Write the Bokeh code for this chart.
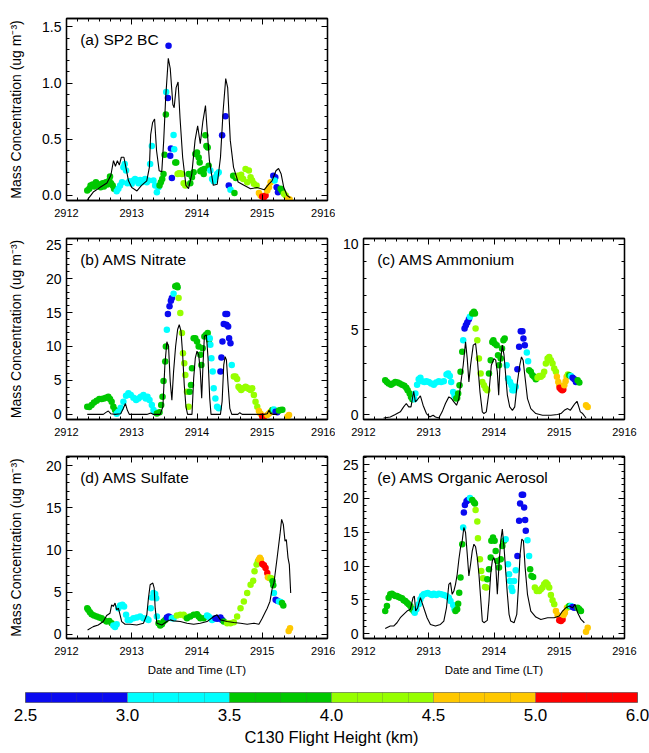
import numpy as np
from bokeh.plotting import figure
from bokeh.models import (Range1d, LinearAxis, FixedTicker, PrintfTickFormatter,
                          Label, ColumnDataSource)
from bokeh.layouts import column, row
from bokeh.embed import file_html
from bokeh.resources import INLINE

FONT = "Liberation Sans"
DAY0 = 2912

# ---------------- colour scale (C130 flight height, km) ----------------
height_levels = [2.5, 3.0, 3.5, 4.0, 4.5, 5.0, 6.0]
height_colors = ["#0a0af0", "#00ffff", "#00c800", "#96ff00", "#ffc800", "#ff0000"]
height_labels = ["2.5", "3.0", "3.5", "4.0", "4.5", "5.0", "6.0"]

# heights used for the dot classes (mid-band values)
B, C, G, Y, O, R = 2.75, 3.25, 3.75, 4.25, 4.75, 5.5

x_ticks = [2912, 2913, 2914, 2915, 2916]


def runs(spec):
    out = []
    for h, n in spec:
        out += [h] * n
    return out

# ---------------- (a) SP2 BC ----------------
a_line_t = [.32, .41, .51, .62, .68, .72, .75, .78, .81, .84, .88, .91, .95, 1.00, 1.08,
            1.15, 1.23, 1.27, 1.29, 1.32, 1.35, 1.38, 1.42, 1.46, 1.49, 1.52, 1.56, 1.59, 1.63, 1.65,
            1.68, 1.71, 1.74, 1.78, 1.83, 1.87, 1.92, 1.97, 2.01, 2.05, 2.09, 2.13, 2.15, 2.19, 2.25,
            2.31, 2.36, 2.40, 2.44, 2.47, 2.51, 2.56, 2.63, 2.72, 2.82, 2.92, 3.03, 3.10, 3.15, 3.21,
            3.25, 3.29, 3.33, 3.38, 3.43]
a_line_y = [-.04, .03, .07, .11, .18, .31, .26, .31, .27, .34, .34, .25, .13, .07, .04,
            .09, .13, .25, .54, .65, .68, .40, .22, .21, .49, .87, 1.22, 1.13, .81, .78,
            .96, 1.01, .69, .34, .09, .06, .19, .49, .62, .46, .66, .80, .63, .31, .09,
            .10, .34, .75, 1.04, .96, .49, .25, .12, .09, .06, .07, .05, .10, .13, .22,
            .24, .19, .07, .00, -.02]
a_dot_t = [.318, .349, .369, .400, .426, .451, .472, .497, .523, .554, .574, .605, .626, .656, .682, .708, .728, .667,
           .769, .795, .821, .851, .872, .892, .913, .933, .964, 1.000, 1.026, 1.051, 1.077, 1.103, 1.128, 1.154,
           1.179, 1.205, 1.231, 1.256, 1.282, 1.308, 1.333, 1.359, 1.385, 1.410,
           1.426, 1.446, 1.467, 1.487, 1.503, 1.523,
           1.528,
           1.554, 1.564, 1.590, 1.600, 1.615,
           1.641, 1.651,
           1.667, 1.682,
           1.703, 1.723, 1.744, 1.769, 1.795, 1.821,
           1.872, 1.897, 1.923, 1.949, 1.974, 2.000, 2.026, 2.041, 2.051, 2.077, 2.103, 2.113, 2.128, 2.144, 2.164, 2.179,
           2.205, 2.231, 2.256, 2.282, 2.308, 2.333,
           2.385, 2.436, 2.487,
           2.513,
           2.554, 2.574, 2.595,
           2.626, 2.656, 2.677, 2.708, 2.744, 2.769, 2.795, 2.821, 2.846, 2.872, 2.913,
           2.949, 2.974,
           3.000, 3.026, 3.051,
           3.077, 3.103, 3.128,
           3.169, 3.200,
           3.190,
           3.221, 3.241,
           3.282, 3.308,
           3.333, 3.359,
           3.395, 3.421]
a_dot_y = [.044, .059, .088, .097, .079, .118, .103, .088, .074, .109, .079, .118, .097, .132, .109, .088, .059, .168,
           .038, .059, .088, .118, .25, .279, .221, .109, .126, .103, .132, .147, .132, .109, .138, .118,
           .132, .147, .118, .132, .279, .441, .132, .088, .029, .074,
           .088, .118, .147, .191, .362, .721,
           .921,
           .868, 1.332, .353, .418, .156,
           .538, .412,
           .294, .294,
           .191, .197, .197, .191, .109, .088,
           .191, .109, .162, .206, .368, .382, .338, .294, .215, .226, .191, .235, .535, .441, .426, .265,
           .221, .147, .126, .162, .191, .206,
           .535, .706, .088,
           .050,
           .176, .021, .156,
           .176, .162, .185, .147, .235, .118, .221, .162, .132, .103, .088,
           .021, .000,
           -.009, -.015, .000,
           .044, .074, .118,
           .176, .162,
           .132,
           .074, .029,
           .059, .038,
           .015, .000,
           -.029, -.035]
a_dot_h = runs([(G, 18), (C, 26), (G, 6), (C, 1), (B, 5), (C, 2), (G, 2), (Y, 6), (G, 16), (C, 6), (B, 3),
                (C, 1), (G, 3), (Y, 11), (O, 2), (R, 3), (O, 3), (B, 2), (C, 1), (B, 2), (G, 2), (Y, 2), (O, 2)])

# ---------------- (b) AMS Nitrate ----------------
b_line_t = [.318, .462, .564, .605, .641, .677, .744, .831, .872, .903, .933, .964, 1.231, 1.292, 1.333,
            1.436, 1.477, 1.508, 1.538, 1.564, 1.590, 1.615, 1.641, 1.672, 1.703, 1.728, 1.754, 1.779, 1.805, 1.831,
            1.856, 1.923, 1.949, 1.974, 2.000, 2.026, 2.051, 2.072, 2.092, 2.113, 2.144, 2.169, 2.195, 2.215, 2.359,
            2.385, 2.410, 2.431, 2.451, 2.477, 2.503, 2.533, 2.626, 2.656, 2.692, 3.026, 3.077, 3.103, 3.128, 3.169,
            3.231]
b_line_y = [0, 0, 0, .3, .5, .1, 0, .1, .9, 1.6, .6, 0, 0, .2, 0,
            0, 1.1, 7.3, 10.7, 10.0, 4.8, 2.1, 6.3, 10.0, 12.5, 13.2, 12.3, 9.0, 4.3, 1.1,
            0, 0, 5.3, 8.3, 9.3, 8.8, 6.3, 2.4, 7.3, 11.5, 11.7, 8.3, 2.4, 0, 0,
            1.9, 7.3, 8.5, 8.0, 4.3, .9, 0, 0, .25, 0, 0, .1, .6, .15, 0,
            0]
b_dot_t = [.318, .349, .385, .421, .462, .503, .538, .574, .605, .641, .667, .692, .718, .744,
           .769, .795, .831, .872, .913, .949, .985, 1.026, 1.067, 1.103, 1.138, 1.179, 1.215, 1.241, 1.272, 1.308, 1.333, 1.359,
           1.385, 1.426, 1.451, 1.472, 1.487, 1.513, 1.523,
           1.538,
           1.554, 1.579, 1.600, 1.615,
           1.641,
           1.667, 1.692, 1.703,
           1.718, 1.744, 1.769, 1.785, 1.805, 1.821, 1.846, 1.872,
           1.887, 1.908, 1.923, 1.949, 1.974, 2.000, 2.026, 2.051, 2.067, 2.087, 2.113, 2.138, 2.164, 2.185,
           2.195, 2.205, 2.221, 2.241, 2.256, 2.282, 2.308, 2.333,
           2.359, 2.374, 2.390, 2.410, 2.436, 2.462, 2.451, 2.477, 2.492, 2.513,
           2.533,
           2.564, 2.590, 2.615, 2.636, 2.656, 2.677, 2.708, 2.744, 2.769, 2.795, 2.821, 2.846, 2.872, 2.897, 2.923,
           2.949, 2.974,
           3.000, 3.026,
           3.077, 3.103, 3.128,
           3.154,
           3.179,
           3.205, 3.231,
           3.256, 3.282, 3.308,
           3.385, 3.410]
b_dot_y = [1.13, 1.08, 1.38, 1.77, 2.02, 2.27, 2.27, 2.36, 2.46, 2.61, 2.27, 1.87, 1.13, .64,
           .10, .39, .99, 1.87, 2.76, 3.10, 2.86, 2.46, 2.12, 2.36, 2.61, 2.86, 2.36, 2.61, 2.12, 1.38, .64, .30,
           .15, .30, 1.38, 2.61, 4.93, 7.78, 10.0,
           12.46,
           14.78, 15.91, 16.75, 17.14,
           17.78,
           18.87, 18.97, 18.72,
           17.14, 14.93, 11.97, 9.01, 7.54, 5.81, 3.35, 1.13,
           3.35, 4.33, 6.80, 11.23, 11.23, 10.74, 10.0, 8.77, 7.29, 9.75, 11.48, 11.72, 11.97, 10.99,
           11.23, 10.25, 8.28, 6.31, 3.84, 2.36, 1.13, .89,
           6.31, 8.37, 10.74, 13.30, 14.78, 14.78, 13.20, 12.96, 11.23, 10.49,
           7.29,
           5.57, 5.57, 5.22, 4.09, 3.84, 3.60, 3.84, 4.09, 3.94, 3.74, 3.60, 3.84, 2.86, 1.87, 1.13,
           .49, .10,
           -.30, -.39,
           -.10, .15, .39,
           .64,
           .74,
           .39, .30,
           .59, .64, .69,
           -.34, -.10]
b_dot_h = runs([(G, 14), (C, 18), (G, 7), (C, 1), (B, 4), (C, 1), (G, 3), (Y, 8), (G, 14), (C, 8), (B, 10),
                (C, 1), (Y, 15), (O, 2), (R, 2), (O, 3), (G, 1), (C, 1), (B, 2), (G, 3), (O, 2)])

# ---------------- (c) AMS Ammonium ----------------
c_line_t = [.308, .410, .487, .564, .615, .656, .692, .728, .769, .795, .831, .872, .913, .964, 1.015,
            1.067, 1.103, 1.154, 1.205, 1.256, 1.308, 1.349, 1.385, 1.426, 1.462, 1.487, 1.528, 1.564, 1.590, 1.615,
            1.641, 1.682, 1.718, 1.744, 1.785, 1.821, 1.846, 1.882, 1.923, 1.959, 2.000, 2.026, 2.051, 2.072, 2.092,
            2.128, 2.154, 2.179, 2.205, 2.241, 2.282, 2.318, 2.359, 2.395, 2.421, 2.446, 2.472, 2.513, 2.564, 2.641,
            2.744, 2.872, 2.974, 3.026, 3.077, 3.128, 3.169, 3.205, 3.241, 3.272, 3.292, 3.323, 3.359, 3.410]
c_line_y = [-.20, -.14, 0, .16, .45, .65, .45, .45, 1.37, .75, .90, 1.10, .55, .06, -.14,
            -.04, -.14, -.20, .16, .65, 1.04, .94, .75, .55, .94, 1.73, 2.90, 4.27, 3.29, 1.92,
            2.90, 4.08, 4.18, 3.29, 1.33, .16, .06, .16, 1.33, 2.90, 3.29, 3.20, 2.51, 1.14, 2.90,
            4.08, 3.49, 2.31, 1.14, .45, .25, .45, 1.92, 2.90, 3.39, 3.20, 2.31, .94, .35, .06,
            -.04, -.04, 0, .06, .25, .35, .25, .45, .65, .78, .55, .16, .06, -.20]
c_dot_t = [.333, .359, .385, .421, .451, .487, .523, .554, .590, .626, .656, .677, .708, .728, .749,
           .779, .795, .821, .846, .872, .897, .933, .964, 1.000, 1.036, 1.077, 1.113, 1.154, 1.190, 1.231, 1.272,
           1.297, 1.323, 1.344, 1.374, 1.395,
           1.421, 1.436, 1.451, 1.472, 1.487, 1.513,
           1.528,
           1.549, 1.569, 1.590, 1.615,
           1.631,
           1.667, 1.692, 1.708,
           1.718, 1.744, 1.769, 1.795, 1.821, 1.846, 1.872, 1.897,
           1.923, 1.949, 1.974, 1.990, 2.010, 2.041, 2.062, 2.077, 2.103, 2.123, 2.144, 2.164,
           2.195, 2.215, 2.246, 2.267, 2.282, 2.308, 2.333,
           2.359, 2.385, 2.410, 2.436, 2.451, 2.472,
           2.503, 2.523,
           2.538, 2.564, 2.590, 2.615, 2.641,
           2.667, 2.692, 2.718, 2.744, 2.769, 2.795, 2.821, 2.846, 2.872, 2.897, 2.923, 2.949,
           2.964, 2.985, 3.000,
           3.005, 3.026, 3.046, 3.062,
           3.077, 3.097, 3.113,
           3.133,
           3.154,
           3.179,
           3.205, 3.231, 3.256,
           3.282, 3.308,
           3.410, 3.436]
c_dot_y = [2.02, 1.92, 1.82, 1.76, 1.82, 1.92, 1.88, 1.82, 1.76, 1.69, 1.57, 1.43, 1.24, 1.04, .90,
           .90, 1.24, 1.76, 2.08, 2.16, 1.96, 1.92, 1.96, 1.92, 1.82, 1.76, 1.88, 1.96, 1.92, 1.96, 2.35,
           2.41, 2.27, 1.92, 1.33, 1.10,
           .94, .98, 1.24, 1.73, 2.51, 3.69,
           4.37,
           5.06, 5.25, 5.41, 5.61,
           5.75,
           5.94, 6.04, 5.94,
           5.06, 4.37, 3.29, 2.41, 1.92, 1.73, 1.53, 1.43,
           2.41, 3.20, 4.27, 4.37, 4.18, 4.08, 3.49, 2.90, 3.29, 3.88, 4.37, 4.47,
           2.90, 2.12, 1.92, 1.73, 1.43, 1.43, 1.63,
           2.67, 3.98, 4.90, 4.90, 4.47, 4.08,
           3.65, 3.14,
           2.61, 2.51, 2.31, 2.22, 2.08,
           2.16, 2.27, 2.22, 2.31, 2.51, 3.00, 3.29, 3.39, 3.20, 3.00, 2.71, 2.51,
           2.22, 1.92, 1.73,
           1.57, 1.49, 1.43, 1.47,
           1.73, 1.96, 2.22,
           2.35,
           2.31,
           2.27,
           2.16, 2.08, 1.92,
           2.02, 1.88,
           .55, .45]
c_dot_h = runs([(G, 15), (C, 21), (G, 6), (C, 1), (B, 4), (C, 1), (G, 3), (Y, 8), (G, 12), (C, 7), (B, 6),
                (C, 2), (G, 5), (Y, 12), (O, 3), (R, 4), (O, 3), (Y, 1), (G, 1), (C, 1), (B, 3), (G, 2), (O, 2)])

# ---------------- (d) AMS Sulfate ----------------
d_line_t = [.323, .410, .487, .564, .615, .667, .692, .718, .744, .769, .795, .821, .846, .897, .974,
            1.077, 1.179, 1.231, 1.256, 1.282, 1.323, 1.344, 1.359, 1.385, 1.462, 1.538, 1.590, 1.641, 1.744, 1.846,
            1.949, 2.051, 2.154, 2.256, 2.308, 2.359, 2.462, 2.564, 2.667, 2.769, 2.872, 2.949, 3.000, 3.051, 3.077,
            3.118, 3.154, 3.179, 3.231, 3.272, 3.297, 3.323, 3.349, 3.369, 3.395, 3.415, 3.436]
d_line_y = [.52, .91, 1.11, 1.51, 2.23, 2.50, 3.50, 3.30, 3.70, 2.90, 3.10, 2.31, 1.51, 1.19, 1.19,
            1.11, 1.31, 2.31, 4.29, 5.88, 6.08, 5.49, 3.10, 1.31, 1.11, 1.51, 1.71, 1.59, 1.51, 1.31,
            1.19, 1.31, 1.51, 2.11, 2.31, 1.71, 1.51, 1.39, 1.31, 1.19, 1.31, 1.19, 1.91, 2.70, 3.10,
            3.90, 5.49, 6.08, 9.26, 11.85, 13.64, 13.04, 11.05, 11.25, 9.07, 8.27, 4.89]
d_dot_t = [.318, .333, .359, .385, .421, .462, .503, .538, .574, .615, .656, .692,
           .718, .744, .769, .795, .821, .856, .882, .913, .938, .974, 1.026, 1.077, 1.128, 1.179, 1.231, 1.256,
           1.292, 1.308, 1.333, 1.359, 1.374, 1.385,
           1.410, 1.436, 1.462, 1.487, 1.513,
           1.538, 1.564, 1.590,
           1.615, 1.641,
           1.692, 1.744, 1.795, 1.821,
           1.846, 1.897, 1.949, 2.000, 2.026, 2.051, 2.103,
           2.154, 2.179, 2.205, 2.231,
           2.282, 2.308, 2.333, 2.359, 2.385,
           2.410,
           2.462, 2.513, 2.564, 2.615, 2.667, 2.718, 2.769, 2.821, 2.862, 2.882, 2.913, 2.933,
           2.949, 2.964, 2.979,
           3.000, 3.026, 3.051, 3.077,
           3.087, 3.108,
           3.128, 3.149,
           3.159, 3.169,
           3.179,
           3.205, 3.231,
           3.256, 3.282,
           3.303, 3.323,
           3.405, 3.426]
d_dot_y = [3.10, 2.90, 2.62, 2.39, 2.23, 2.11, 1.99, 1.91, 1.71, 1.51, 1.59, 1.31,
           1.03, .87, 1.19, 3.10, 3.42, 3.50, 3.30, 2.31, 1.71, 1.71, 1.91, 1.99, 2.11, 1.91, 1.83, 1.71,
           3.10, 4.37, 4.89, 4.77, 4.29, 2.11,
           1.31, 1.03, 1.19, 1.51, 1.71,
           1.99, 2.11, 1.99,
           1.91, 1.91,
           2.23, 2.31, 2.31, 2.11,
           1.91, 2.11, 2.31, 2.39, 2.11, 1.91, 1.91,
           2.23, 2.11, 1.91, 1.71,
           1.91, 1.83, 1.91, 1.99, 1.71,
           1.51,
           1.31, 1.31, 1.43, 2.11, 3.10, 3.90, 4.89, 5.88, 6.36, 7.48, 8.27, 8.67,
           8.87, 9.07, 8.87,
           8.35, 8.19, 7.87, 7.28,
           6.76, 6.68,
           6.68, 6.60,
           6.28, 5.81,
           4.89,
           4.10, 3.98,
           3.90, 3.82,
           3.70, 3.42,
           .40, .72]
d_dot_h = runs([(G, 12), (C, 22), (G, 5), (B, 3), (C, 2), (Y, 4), (G, 7), (C, 4), (B, 5), (G, 1), (Y, 12),
                (O, 3), (R, 4), (O, 2), (Y, 2), (G, 2), (C, 1), (B, 2), (C, 2), (G, 2), (O, 2)])

# ---------------- (e) AMS Organic Aerosol ----------------
e_line_t = [.333, .410, .462, .513, .564, .615, .667, .718, .759, .779, .800, .831, .872, .923, .974,
            1.026, 1.103, 1.179, 1.231, 1.272, 1.308, 1.333, 1.359, 1.385, 1.410, 1.436, 1.462, 1.487, 1.513, 1.538,
            1.564, 1.590, 1.615, 1.641, 1.667, 1.692, 1.718, 1.744, 1.769, 1.795, 1.821, 1.846, 1.897, 1.923, 1.949,
            1.974, 2.000, 2.026, 2.051, 2.077, 2.103, 2.128, 2.154, 2.179, 2.205, 2.231, 2.256, 2.308, 2.349, 2.374,
            2.400, 2.426, 2.451, 2.477, 2.513, 2.564, 2.641, 2.718, 2.821, 2.923, 3.000, 3.051, 3.103, 3.154, 3.205,
            3.241, 3.282, 3.333, 3.385]
e_line_y = [.79, 1.14, 1.14, 1.63, 2.37, 2.87, 3.36, 3.61, 5.34, 5.58, 3.36, 3.85, 5.34, 3.85, 2.37,
            1.38, 1.14, 1.38, 1.88, 3.85, 7.31, 7.56, 5.83, 6.32, 7.31, 8.79, 11.02, 12.75, 13.74, 15.71,
            14.97, 11.76, 8.55, 10.28, 12.25, 13.24, 12.85, 11.26, 8.79, 5.34, 1.88, 1.63, 1.98, 4.84, 8.79,
            10.77, 11.26, 10.28, 5.83, 10.28, 13.74, 15.46, 12.75, 9.29, 5.83, 2.87, 1.88, 1.63, 2.87, 6.82,
            11.76, 13.98, 13.74, 9.78, 5.83, 3.36, 2.47, 2.12, 2.37, 2.37, 2.62, 3.36, 3.85, 4.10, 3.85,
            4.35, 3.11, 2.12, 1.63]
e_dot_t = [.333, .359, .385, .410, .436, .462, .487, .513, .538, .564, .590, .615, .641, .667, .692, .718, .744, .769,
           .785, .810, .846, .872, .897, .923, .949, .985, 1.026, 1.051, 1.077, 1.118, 1.154, 1.190, 1.231, 1.272,
           1.308, 1.333, 1.374, 1.395,
           1.410, 1.436, 1.451, 1.467, 1.487, 1.513,
           1.528,
           1.538, 1.554, 1.579, 1.600,
           1.631,
           1.667, 1.692, 1.708,
           1.718, 1.744, 1.754, 1.785, 1.805, 1.831, 1.862, 1.882,
           1.897, 1.923, 1.949, 1.959, 1.985, 2.010, 2.026, 2.051, 2.077, 2.103, 2.128, 2.154,
           2.179, 2.215, 2.231, 2.246, 2.267, 2.282, 2.308, 2.333,
           2.359, 2.385, 2.400, 2.426, 2.446, 2.462, 2.477, 2.487,
           2.513, 2.538,
           2.554, 2.574, 2.600,
           2.626, 2.656, 2.692, 2.718, 2.744, 2.769, 2.795, 2.821, 2.846, 2.872, 2.897, 2.923,
           2.949, 2.974,
           3.000, 3.026, 3.051,
           3.067, 3.087, 3.118,
           3.138,
           3.154,
           3.179,
           3.205, 3.231,
           3.282, 3.308, 3.333,
           3.410, 3.436]
e_dot_y = [3.36, 4.10, 5.34, 5.83, 5.93, 5.73, 5.58, 5.58, 5.43, 5.34, 5.24, 4.94, 4.84, 4.59, 4.35, 4.10, 3.61, 3.36,
           3.11, 3.61, 4.35, 5.09, 5.58, 5.83, 5.93, 6.03, 5.83, 5.73, 5.93, 5.73, 5.93, 5.83, 5.73, 5.58,
           5.34, 4.84, 4.25, 3.61,
           3.36, 3.61, 4.45, 6.08, 8.30, 13.24,
           15.71,
           17.93, 19.02, 19.57, 19.76,
           20.06,
           19.76, 19.42, 19.27,
           18.28, 16.60, 14.13, 11.02, 9.29, 8.20, 6.92, 6.82,
           8.05, 9.54, 11.26, 13.74, 14.23, 13.74, 12.25, 10.77, 9.78, 11.02, 12.99, 13.74,
           13.98, 10.28, 8.79, 7.81, 6.82, 6.32, 7.81, 9.39,
           11.51, 16.70, 19.27, 20.55, 20.55, 18.68, 16.80, 15.22,
           13.83, 11.51,
           9.54, 8.55, 8.40,
           6.82, 6.32, 6.32, 6.57, 6.82, 7.31, 7.56, 7.31, 6.82, 5.73, 4.94, 4.35,
           3.36, 2.77,
           1.98, 1.88, 2.12,
           2.77, 3.11, 3.85,
           3.95,
           4.10,
           4.10,
           3.95, 3.85,
           3.85, 3.61, 3.36,
           .30, .89]
e_dot_h = runs([(G, 18), (C, 20), (G, 6), (C, 1), (B, 4), (C, 1), (G, 3), (Y, 8), (G, 12), (C, 8), (B, 8),
                (C, 2), (G, 3), (Y, 12), (O, 2), (R, 3), (O, 3), (Y, 1), (G, 1), (C, 1), (B, 2), (G, 3), (O, 2)])


def height_color(h):
    i = int(np.searchsorted(height_levels, h, side="right")) - 1
    return height_colors[min(max(i, 0), len(height_colors) - 1)]


def style_axis(ax, label_size=None, standoff=5):
    ax.major_tick_in = 6
    ax.major_tick_out = 0
    ax.minor_tick_in = 3
    ax.minor_tick_out = 0
    ax.axis_line_color = "black"
    ax.axis_line_width = 1.3
    ax.major_tick_line_color = "black"
    ax.minor_tick_line_color = "black"
    ax.major_label_text_font = FONT
    ax.major_label_text_color = "black"
    ax.axis_label_text_font = FONT
    ax.axis_label_text_font_style = "normal"
    ax.axis_label_text_color = "black"
    if label_size is None:
        ax.major_label_text_font_size = "0px"
        ax.major_label_standoff = 0
    else:
        ax.major_label_text_font_size = label_size
        ax.major_label_standoff = standoff


def panel(title, lt, ly, dt, dy, dh, yr, ymaj, ymin, yfmt, width, height, borders,
          ylabel=False, ylab_standoff=15, xlabel=False):
    assert len(lt) == len(ly), title
    assert len(dt) == len(dy) == len(dh), (title, len(dt), len(dy), len(dh))
    bl, br, bt, bb = borders
    p = figure(width=width, height=height, x_range=Range1d(2912, 2916), y_range=Range1d(*yr),
               x_axis_type=None, y_axis_type=None, output_backend="svg", toolbar_location=None,
               min_border_left=bl, min_border_right=br, min_border_top=bt, min_border_bottom=bb)
    p.outline_line_color = "black"
    p.outline_line_width = 1.3
    p.background_fill_color = "white"
    p.border_fill_color = "white"

    xminor = list(np.arange(2912, 2916.001, 1 / 6))
    xt = FixedTicker(ticks=x_ticks, minor_ticks=xminor)
    yt = FixedTicker(ticks=ymaj, minor_ticks=ymin)

    xb = LinearAxis(ticker=xt, formatter=PrintfTickFormatter(format="%d"))
    style_axis(xb, "11px", 8)
    if xlabel:
        xb.axis_label = "Date and Time (LT)"
        xb.axis_label_text_font_size = "11.5px"
        xb.axis_label_standoff = 6
    p.add_layout(xb, "below")
    xa = LinearAxis(ticker=xt, major_label_overrides={t: "" for t in x_ticks})
    style_axis(xa)
    p.add_layout(xa, "above")

    yl = LinearAxis(ticker=yt, formatter=PrintfTickFormatter(format=yfmt))
    style_axis(yl, "14px", 5)
    if ylabel:
        yl.axis_label = "Mass Concentration (ug m\u207b\u00b3)"
        yl.axis_label_text_font_size = "14px"
        yl.axis_label_standoff = ylab_standoff
    p.add_layout(yl, "left")
    yr_ax = LinearAxis(ticker=yt, major_label_overrides={t: "" for t in ymaj})
    style_axis(yr_ax)
    p.add_layout(yr_ax, "right")

    src = ColumnDataSource(dict(t=[DAY0 + v for v in dt], y=dy,
                                c=[height_color(h) for h in dh]))
    p.scatter("t", "y", source=src, size=6.5, fill_color="c", line_color=None)
    p.line([DAY0 + v for v in lt], ly, line_color="black", line_width=1.1)

    yspan = yr[1] - yr[0]
    p.add_layout(Label(x=2912.21, y=yr[1] - 0.115 * yspan, text=title, text_font=FONT,
                       text_font_size="15.5px", text_baseline="middle", text_color="black"))
    return p


W1, W2 = 335, 314
B1 = (66, 8)
B2 = (28, 25)

pa = panel("(a) SP2 BC", a_line_t, a_line_y, a_dot_t, a_dot_y, a_dot_h,
           (-0.045, 1.575), [0, 0.5, 1.0, 1.5], list(np.round(np.arange(0, 1.55, 0.1), 2)), "%.1f",
           W1, 228, B1 + (18, 28), ylabel=True, ylab_standoff=15)
pb = panel("(b) AMS Nitrate", b_line_t, b_line_y, b_dot_t, b_dot_y, b_dot_h,
           (-0.75, 25.9), [0, 5, 10, 15, 20, 25], list(range(0, 26)), "%d",
           W1, 218, B1 + (10, 27), ylabel=True, ylab_standoff=19)
pc = panel("(c) AMS Ammonium", c_line_t, c_line_y, c_dot_t, c_dot_y, c_dot_h,
           (-0.29, 10.35), [0, 5, 10], list(range(0, 11)), "%d",
           W2, 218, B2 + (10, 27))
pd_ = panel("(d) AMS Sulfate", d_line_t, d_line_y, d_dot_t, d_dot_y, d_dot_h,
            (-0.5, 21.1), [0, 5, 10, 15, 20], list(range(0, 22)), "%d",
            W1, 234, B1 + (10, 42), ylabel=True, ylab_standoff=19, xlabel=True)
pe = panel("(e) AMS Organic Aerosol", e_line_t, e_line_y, e_dot_t, e_dot_y, e_dot_h,
           (-0.7, 26.2), [0, 5, 10, 15, 20, 25], list(range(0, 27)), "%d",
           W2, 234, B2 + (10, 42), xlabel=True)

# ---------------- colour bar ----------------
ncol = len(height_colors)
cb = figure(width=649, height=71, x_range=Range1d(0, ncol), y_range=Range1d(0, 1),
            x_axis_type=None, y_axis_type=None, output_backend="svg", toolbar_location=None,
            min_border_left=25, min_border_right=12, min_border_top=12, min_border_bottom=49)
cb.outline_line_color = "#777777"
cb.outline_line_width = 1
cb.quad(left=list(range(ncol)), right=list(range(1, ncol + 1)), bottom=0, top=1,
        fill_color=height_colors, line_color=None)
cax = LinearAxis(ticker=FixedTicker(ticks=list(range(ncol + 1)),
                                    minor_ticks=list(np.arange(0, ncol + 0.001, 0.25))),
                 major_label_overrides={i: lab for i, lab in enumerate(height_labels)})
cax.axis_line_color = None
cax.major_tick_in = 10
cax.major_tick_out = 0
cax.minor_tick_in = 10
cax.minor_tick_out = 0
cax.major_tick_line_color = "#555555"
cax.minor_tick_line_color = "#555555"
cax.major_tick_line_alpha = 0.25
cax.minor_tick_line_alpha = 0.25
cax.major_label_text_font = FONT
cax.major_label_text_font_size = "17px"
cax.major_label_standoff = 6
cax.major_label_text_color = "black"
cax.axis_label = "C130 Flight Height (km)"
cax.axis_label_text_font = FONT
cax.axis_label_text_font_size = "16.5px"
cax.axis_label_text_font_style = "normal"
cax.axis_label_standoff = 4
cax.axis_label_text_color = "black"
cb.add_layout(cax, "below")

top = column(pa, row(pb, pc), row(pd_, pe))
open("out.html", "w").write(file_html([top, cb], INLINE))
